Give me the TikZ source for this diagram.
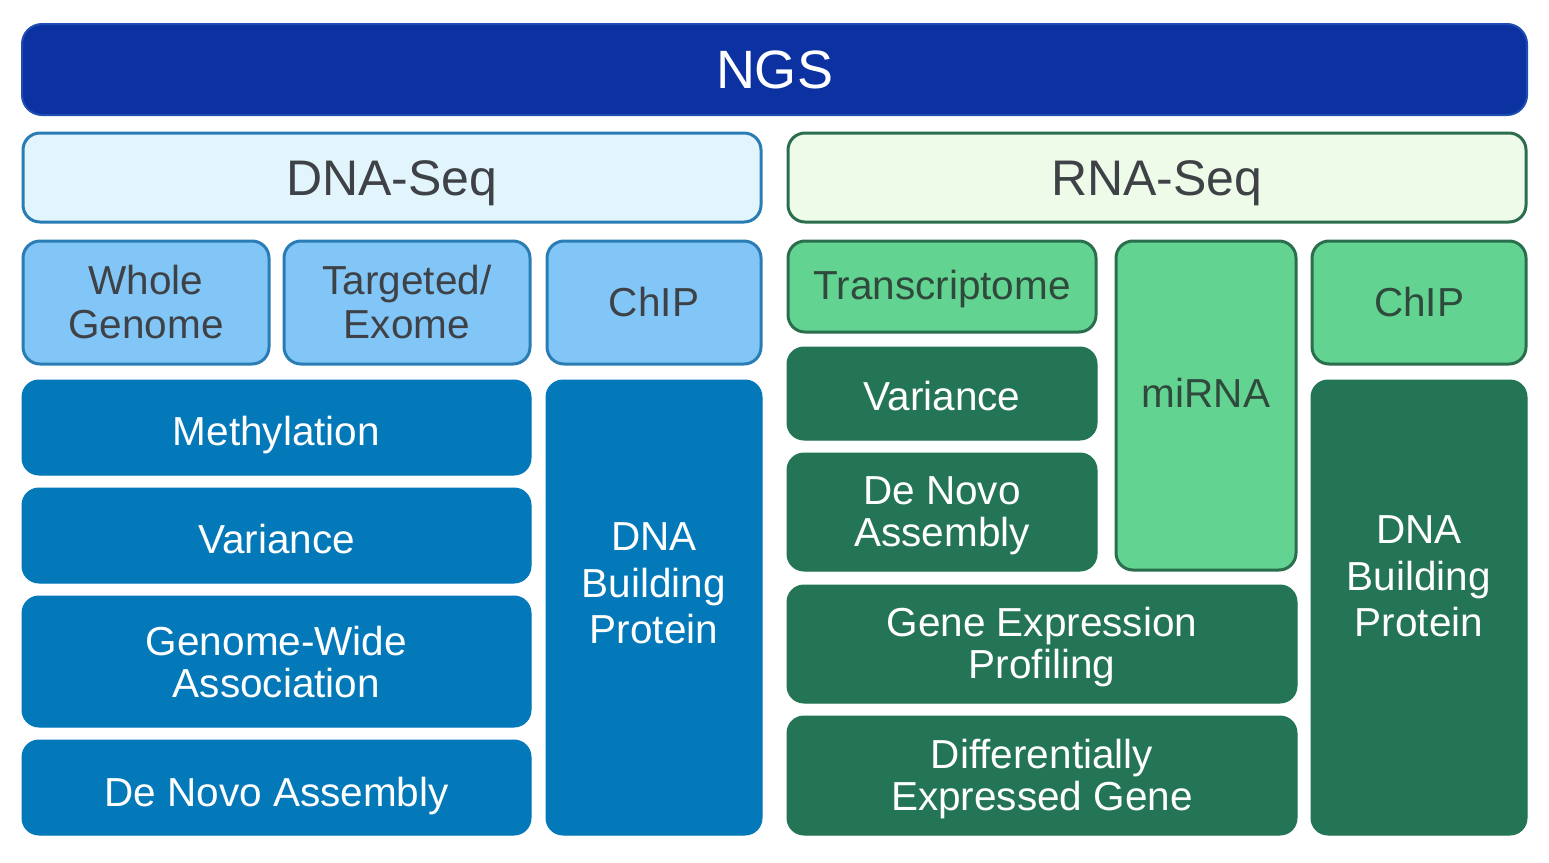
\documentclass[tikz,border=0pt]{standalone}
\usepackage{fontspec}
\setmainfont{Liberation Sans}
\definecolor{ngsblue}{HTML}{0C31A0}
\definecolor{ngsedge}{HTML}{1E4DB3}
\definecolor{dnabg}{HTML}{E2F5FD}
\definecolor{dnaedge}{HTML}{2A7DB4}
\definecolor{ltblue}{HTML}{82C5F7}
\definecolor{midblue}{HTML}{0479B9}
\definecolor{rnabg}{HTML}{EEFBE9}
\definecolor{rnaedge}{HTML}{2B6E4E}
\definecolor{ltgreen}{HTML}{63D391}
\definecolor{dkgreen}{HTML}{237555}
\definecolor{txtgrey}{HTML}{3E4246}
\definecolor{txtgreen}{HTML}{2F4A3C}
% name, box style, text style, x1, y1, x2, y2, text, vertical text offset
\newcommand\ngsbox[9]{%
  \node[#2, minimum width={#6-#4}, minimum height={#7-#5},
    label={[#3, yshift=#9]center:{#8}}] (#1) at ({(#4+#6)/2},{(#5+#7)/2}) {};}
\begin{document}
\begin{tikzpicture}[x=1pt,y=-1pt,
  box/.style={rectangle, rounded corners=17, inner sep=0},
  toptitle/.style={box, fill=ngsblue, draw=ngsedge, line width=2, rounded corners=20},
  dnahead/.style={box, fill=dnabg, draw=dnaedge, line width=3},
  rnahead/.style={box, fill=rnabg, draw=rnaedge, line width=3},
  ltb/.style={box, fill=ltblue, draw=dnaedge, line width=3},
  mdb/.style={box, fill=midblue, draw=midblue, line width=1},
  ltg/.style={box, fill=ltgreen, draw=rnaedge, line width=3},
  dkg/.style={box, fill=dkgreen, draw=dkgreen, line width=1},
  boxtext/.style={inner sep=0, align=center, font=\fontsize{40.5}{44}\selectfont},
  titletext/.style={boxtext, text=white, font=\fontsize{54}{60}\selectfont},
  headtext/.style={boxtext, text=txtgrey, font=\fontsize{50}{56}\selectfont},
  greytext/.style={boxtext, text=txtgrey},
  greentext/.style={boxtext, text=txtgreen},
  whitetext/.style={boxtext, text=white},
  whitetight/.style={whitetext, font=\fontsize{40.5}{42}\selectfont},
  whiteloose/.style={whitetext, font=\fontsize{40.5}{46.5}\selectfont}
]
\useasboundingbox[fill=white] (0,0) rectangle (1549,862);

\ngsbox{ngs}{toptitle}{titletext}{22}{24}{1527}{115}{NGS}{0}
\ngsbox{dnaseq}{dnahead}{headtext}{23}{133}{761}{222}{DNA-Seq}{-6}
\ngsbox{rnaseq}{rnahead}{headtext}{788}{133}{1526}{222}{RNA-Seq}{-6}

% DNA side
\ngsbox{whole}{ltb}{greytext}{23}{241}{269}{364}{Whole\\Genome}{0}
\ngsbox{targeted}{ltb}{greytext}{284}{241}{530}{364}{Targeted/\\Exome}{0}
\ngsbox{chipd}{ltb}{greytext}{547}{241}{761}{364}{ChIP}{0}
\ngsbox{meth}{mdb}{whitetext}{22}{380}{531}{475}{Methylation}{-8}
\ngsbox{vard}{mdb}{whitetext}{22}{488}{531}{583}{Variance}{-4}
\ngsbox{gwa}{mdb}{whitetight}{22}{596}{531}{727}{Genome-Wide\\Association}{-1}
\ngsbox{denovod}{mdb}{whitetext}{22}{740}{531}{835}{De Novo Assembly}{-9}
\ngsbox{dbpd}{mdb}{whiteloose}{546}{380}{762}{835}{DNA\\Building\\Protein}{24}

% RNA side
\ngsbox{trans}{ltg}{greentext}{788}{241}{1096}{332}{Transcriptome}{-3}
\ngsbox{mirna}{ltg}{greentext}{1116}{241}{1296}{570}{miRNA}{13}
\ngsbox{chipr}{ltg}{greentext}{1312}{241}{1526}{364}{ChIP}{0}
\ngsbox{varr}{dkg}{whitetext}{787}{347}{1097}{440}{Variance}{-3}
\ngsbox{denovor}{dkg}{whitetight}{787}{453}{1097}{571}{De Novo\\Assembly}{-4}
\ngsbox{gep}{dkg}{whitetight}{787}{585}{1297}{703}{Gene Expression\\Profiling}{-3}
\ngsbox{deg}{dkg}{whitetight}{787}{716}{1297}{835}{Differentially\\Expressed Gene}{-4}
\ngsbox{dbpr}{dkg}{whiteloose}{1311}{380}{1527}{835}{DNA\\Building\\Protein}{31}
\end{tikzpicture}
\end{document}
